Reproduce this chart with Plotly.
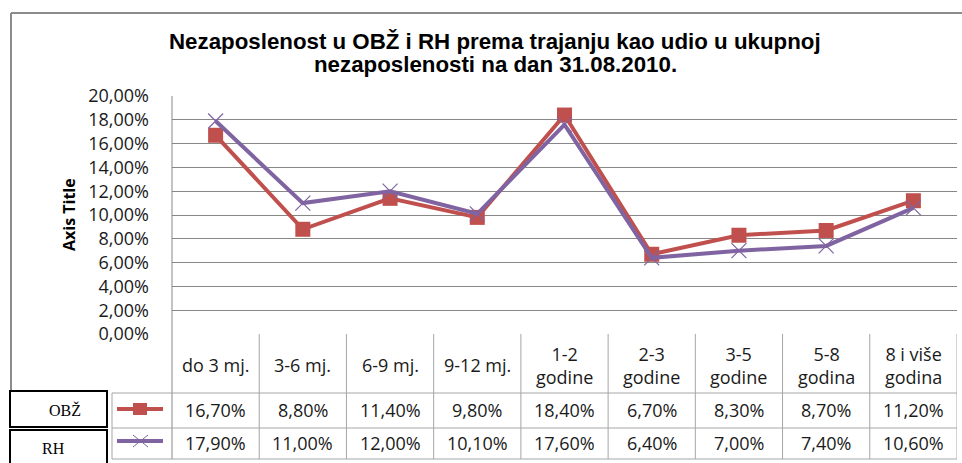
import plotly.graph_objects as go

categories = ["do 3 mj.", "3-6 mj.", "6-9 mj.", "9-12 mj.", "1-2<br>godine", "2-3<br>godine",
              "3-5<br>godine", "5-8<br>godina", "8 i više<br>godina"]
obz = [16.7, 8.8, 11.4, 9.8, 18.4, 6.7, 8.3, 8.7, 11.2]
rh = [17.9, 11.0, 12.0, 10.1, 17.6, 6.4, 7.0, 7.4, 10.6]
series_names = ["OBŽ", "RH"]
y_ticks = [0, 2, 4, 6, 8, 10, 12, 14, 16, 18, 20]
title_lines = ["Nezaposlenost u OBŽ i RH prema trajanju kao udio u ukupnoj",
               "nezaposlenosti na dan 31.08.2010."]

RED = "#C0504D"
PURPLE = "#8064A2"
GRID = "#878787"
TBL = "#A6A6A6"

W, H = 962, 463
L, R, T, B = 172, 957, 96, 334


def px(x):
    return (x - L) / (R - L)


def py(y):
    return (B - y) / (B - T)


def fmt(v):
    return f"{v:.2f}%".replace(".", ",")


x_idx = list(range(len(categories)))

fig = go.Figure()
fig.add_trace(go.Scatter(x=x_idx, y=obz, mode="lines+markers", name=series_names[0],
                         line=dict(color=RED, width=4),
                         marker=dict(symbol="square", size=15, color=RED)))
fig.add_trace(go.Scatter(x=x_idx, y=rh, mode="lines+markers", name=series_names[1],
                         line=dict(color=PURPLE, width=4),
                         marker=dict(symbol="x-thin", size=15, color=PURPLE,
                                     line=dict(color=PURPLE, width=1.2))))

shapes = []
annotations = []
# outer chart border
shapes.append(dict(type="line", xref="paper", yref="paper", x0=px(11), x1=px(970), y0=py(13), y1=py(13),
                   line=dict(color="#8C8C8C", width=2)))
shapes.append(dict(type="line", xref="paper", yref="paper", x0=px(11), x1=px(11), y0=py(13), y1=py(392),
                   line=dict(color="#8C8C8C", width=2)))
# plot left border extending into table
shapes.append(dict(type="line", xref="paper", yref="paper", x0=0, x1=0, y0=1, y1=py(459),
                   line=dict(color=GRID, width=1)))
# table column lines
for i in range(len(categories)):
    shapes.append(dict(type="line", xref="x", yref="paper", x0=i + 0.5, x1=i + 0.5, y0=0, y1=py(459),
                       line=dict(color=TBL, width=1)))
# table horizontal lines
for yy in [393, 428, 459]:
    shapes.append(dict(type="line", xref="paper", yref="paper", x0=px(112), x1=1, y0=py(yy), y1=py(yy),
                       line=dict(color=TBL, width=1)))
shapes.append(dict(type="line", xref="paper", yref="paper", x0=px(112), x1=px(112), y0=py(393), y1=py(459),
                   line=dict(color=TBL, width=1)))
# series label boxes
shapes.append(dict(type="rect", xref="paper", yref="paper", x0=px(10), x1=px(107), y0=py(391), y1=py(427),
                   line=dict(color="black", width=2)))
shapes.append(dict(type="rect", xref="paper", yref="paper", x0=px(10), x1=px(107), y0=py(430), y1=py(470),
                   line=dict(color="black", width=2)))
# legend keys
shapes.append(dict(type="line", xref="paper", yref="paper", x0=px(117), x1=px(163), y0=py(409), y1=py(409),
                   line=dict(color=RED, width=4)))
shapes.append(dict(type="rect", xref="paper", yref="paper", x0=px(133), x1=px(147), y0=py(403), y1=py(415),
                   fillcolor=RED, line=dict(width=0)))
shapes.append(dict(type="line", xref="paper", yref="paper", x0=px(117), x1=px(163), y0=py(441), y1=py(441),
                   line=dict(color=PURPLE, width=4)))
shapes.append(dict(type="line", xref="paper", yref="paper", x0=px(133), x1=px(148), y0=py(435), y1=py(447),
                   line=dict(color=PURPLE, width=1)))
shapes.append(dict(type="line", xref="paper", yref="paper", x0=px(133), x1=px(148), y0=py(447), y1=py(435),
                   line=dict(color=PURPLE, width=1)))

cell_font = dict(family="Open Sans, Lato, sans-serif", size=18, color="#1a1a1a")
for i, c in enumerate(categories):
    annotations.append(dict(x=i, y=py(365), xref="x", yref="paper", text=c, showarrow=False,
                            font=cell_font, align="center", yanchor="middle"))
    annotations.append(dict(x=i, y=py(410), xref="x", yref="paper", text=fmt(obz[i]), showarrow=False,
                            font=cell_font, yanchor="middle"))
    annotations.append(dict(x=i, y=py(443), xref="x", yref="paper", text=fmt(rh[i]), showarrow=False,
                            font=cell_font, yanchor="middle"))

label_font = dict(family="Liberation Serif, Times New Roman, serif", size=16, color="black")
annotations.append(dict(x=px(47), y=py(410), xref="paper", yref="paper", text=series_names[0],
                        showarrow=False, font=label_font, yanchor="middle"))
annotations.append(dict(x=px(40), y=py(448), xref="paper", yref="paper", text=series_names[1],
                        showarrow=False, font=label_font, yanchor="middle"))
annotations.append(dict(x=px(56), y=py(215), xref="paper", yref="paper", text="<b>Axis Title</b>",
                        showarrow=False, textangle=-90,
                        font=dict(family="Open Sans, sans-serif", size=16, color="black")))
title_font = dict(family="Liberation Sans, Arial, sans-serif", size=22.3, color="black")
annotations.append(dict(x=px(495), y=py(42), xref="paper", yref="paper", text=f"<b>{title_lines[0]}</b>",
                        showarrow=False, yanchor="middle", font=title_font))
annotations.append(dict(x=px(495), y=py(64), xref="paper", yref="paper", text=f"<b>{title_lines[1]}</b>",
                        showarrow=False, yanchor="middle", font=title_font))

fig.update_layout(
    width=W, height=H,
    margin=dict(l=L, r=W - R, t=T, b=H - B, pad=0),
    plot_bgcolor="white", paper_bgcolor="white",
    showlegend=False,
    shapes=shapes,
    annotations=annotations,
    xaxis=dict(range=[-0.5, len(categories) - 0.5], showgrid=False, showticklabels=False,
               zeroline=False, showline=False, fixedrange=True),
    yaxis=dict(range=[0, 20], tickvals=y_ticks, ticktext=[fmt(v) for v in y_ticks],
               showgrid=True, gridcolor=GRID, gridwidth=1, zeroline=False, showline=False,
               ticklabelstandoff=22,
               tickfont=dict(family="Open Sans, Lato, sans-serif", size=18, color="#1a1a1a")),
)
fig.write_html("out.html", config={"displayModeBar": False},
               post_script="document.body.style.margin='0px';")
